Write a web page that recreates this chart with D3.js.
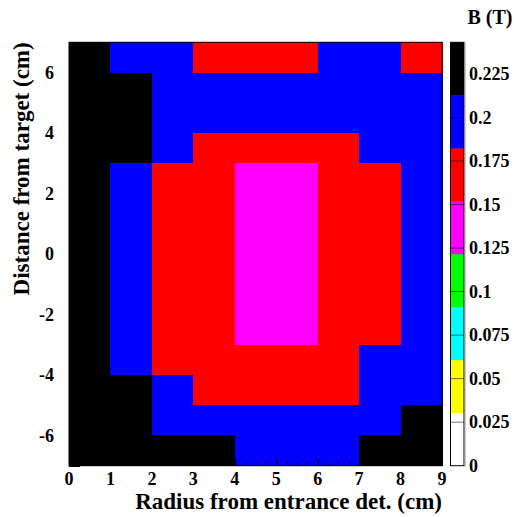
<!DOCTYPE html>
<html>
<head>
<meta charset="utf-8">
<script src="https://cdn.jsdelivr.net/npm/d3@7"></script>
<style>
  html, body { margin: 0; padding: 0; background: #fff; }
  svg { display: block; }
</style>
</head>
<body>
<script>
// Field map: bin edges along each axis (cm)
const radiusEdges = [0, 1, 2, 3, 4, 5, 6, 7, 8, 9];
const distanceEdges = [7, 6, 5, 4, 3, 2, 1, 0, -1, -2, -3, -4, -5, -6, -7];

// Field magnitude B (T), one row per distance bin from +7 down to -7 cm,
// one value per radius bin from 0 to 9 cm
const fieldRows = [
  [0.236, 0.205, 0.192, 0.176, 0.171, 0.174, 0.186, 0.198, 0.179],
  [0.2432, 0.221, 0.203, 0.194, 0.190, 0.191, 0.193, 0.199, 0.206],
  [0.238, 0.216, 0.198, 0.189, 0.186, 0.187, 0.190, 0.196, 0.204],
  [0.233, 0.214, 0.192, 0.179, 0.172, 0.173, 0.178, 0.187, 0.199],
  [0.228, 0.207, 0.179, 0.163, 0.149, 0.148, 0.161, 0.176, 0.193],
  [0.226, 0.204, 0.175, 0.158, 0.143, 0.142, 0.156, 0.172, 0.190],
  [0.225, 0.203, 0.173, 0.156, 0.140, 0.139, 0.154, 0.170, 0.188],
  [0.225, 0.203, 0.173, 0.156, 0.140, 0.139, 0.154, 0.170, 0.188],
  [0.226, 0.204, 0.175, 0.158, 0.142, 0.142, 0.156, 0.172, 0.190],
  [0.228, 0.206, 0.178, 0.162, 0.148, 0.147, 0.160, 0.175, 0.192],
  [0.232, 0.210, 0.178, 0.167, 0.160, 0.160, 0.167, 0.184, 0.197],
  [0.235, 0.215, 0.190, 0.178, 0.172, 0.172, 0.176, 0.188, 0.203],
  [0.238, 0.219, 0.199, 0.192, 0.187, 0.187, 0.191, 0.205, 0.214],
  [0.240, 0.226, 0.217, 0.213, 0.209, 0.205, 0.208, 0.218, 0.224]
];

// Axis tick labels
const xTickValues = [0, 1, 2, 3, 4, 5, 6, 7, 8, 9];
const yTickValues = [-6, -4, -2, 0, 2, 4, 6];
const zTickValues = [0, 0.025, 0.05, 0.075, 0.1, 0.125, 0.15, 0.175, 0.2, 0.225];
const zTickLabels = ["0", "0.025", "0.05", "0.075", "0.1", "0.125", "0.15", "0.175", "0.2", "0.225"];

// Eight-level palette, low to high
const paletteColors = ["#ffffff", "#ffff00", "#00ffff", "#00ff00", "#ff00ff", "#ff0000", "#0000ff", "#000000"];

const W = 514, H = 517;
const plot = { left: 69, right: 442, top: 42.3, bottom: 465.7 };
const bar = { left: 450.5, right: 464 };
const FONT = "'Liberation Serif', 'Times New Roman', Times, 'DejaVu Serif', serif";

const svg = d3.select("body").append("svg")
  .attr("width", W).attr("height", H)
  .attr("font-family", FONT).attr("font-weight", "bold");

const x = d3.scaleLinear().domain([0, 9]).range([plot.left, plot.right]);
const y = d3.scaleLinear().domain([-7, 7]).range([plot.bottom, plot.top]);
const zMax = d3.max(fieldRows.flat());
const z = d3.scaleLinear().domain([0, zMax]).range([plot.bottom, plot.top]);
const color = d3.scaleQuantize().domain([0, zMax]).range(paletteColors);

// Cells
const cells = [];
fieldRows.forEach((row, i) => {
  row.forEach((v, j) => {
    cells.push({ x0: radiusEdges[j], x1: radiusEdges[j] + 1, y0: distanceEdges[i] - 1, y1: distanceEdges[i], v });
  });
});
svg.append("g").selectAll("rect").data(cells).join("rect")
  .attr("x", d => x(d.x0))
  .attr("y", d => y(d.y1))
  .attr("width", d => x(d.x1) - x(d.x0) + 0.5)
  .attr("height", d => y(d.y0) - y(d.y1) + 0.5)
  .attr("fill", d => color(d.v))
  .attr("shape-rendering", "crispEdges");

// Ticks (drawn inward)
const tickG = svg.append("g").attr("stroke", "#000").attr("stroke-width", 1);
const xMinor = d3.range(0, 9.001, 0.25);
tickG.selectAll("line.xt").data(xMinor).join("line")
  .attr("x1", d => Math.round(x(d)) + 0.5).attr("x2", d => Math.round(x(d)) + 0.5)
  .attr("y1", plot.bottom)
  .attr("y2", d => plot.bottom - (Math.abs(d - Math.round(d)) < 1e-6 ? 7 : 3.5));
const yMinor = d3.range(-7, 7.001, 0.5);
tickG.selectAll("line.yt").data(yMinor).join("line")
  .attr("y1", d => Math.round(y(d)) + 0.5).attr("y2", d => Math.round(y(d)) + 0.5)
  .attr("x1", plot.left)
  .attr("x2", d => plot.left + (Math.abs(d - Math.round(d)) < 1e-6 ? 11 : 5.5));

// Frame
svg.append("rect")
  .attr("x", plot.left).attr("y", plot.top)
  .attr("width", plot.right - plot.left).attr("height", plot.bottom - plot.top)
  .attr("fill", "none").attr("stroke", "#000").attr("stroke-width", 1);

// X tick labels
svg.append("g").selectAll("text").data(xTickValues).join("text")
  .attr("x", d => x(d)).attr("y", 485)
  .attr("text-anchor", "middle").attr("font-size", 18)
  .text(d => d);

// Y tick labels
svg.append("g").selectAll("text").data(yTickValues).join("text")
  .attr("x", 54).attr("y", d => y(d)).attr("dy", "0.35em")
  .attr("text-anchor", "end").attr("font-size", 18)
  .text(d => d);

// Axis titles
svg.append("text")
  .attr("x", plot.right).attr("y", 509)
  .attr("text-anchor", "end").attr("font-size", 23)
  .text("Radius from entrance det. (cm)");
svg.append("text")
  .attr("transform", `translate(29,${plot.top}) rotate(-90)`)
  .attr("text-anchor", "end").attr("font-size", 23)
  .text("Distance from target (cm)");

// Color bar
const bands = paletteColors.map((c, i) => ({ lo: zMax * i / 8, hi: zMax * (i + 1) / 8, c }));
svg.append("g").selectAll("rect").data(bands).join("rect")
  .attr("x", bar.left).attr("width", bar.right - bar.left)
  .attr("y", d => z(d.hi)).attr("height", d => z(d.lo) - z(d.hi) + 0.3)
  .attr("fill", d => d.c);
svg.append("g").selectAll("line").data(zTickValues.slice(1)).join("line")
  .attr("x1", bar.left).attr("x2", bar.right)
  .attr("y1", d => z(d)).attr("y2", d => z(d))
  .attr("stroke", "#000").attr("stroke-opacity", 0.55).attr("stroke-width", 1);
svg.append("rect")
  .attr("x", bar.left).attr("y", plot.top)
  .attr("width", bar.right - bar.left).attr("height", plot.bottom - plot.top)
  .attr("fill", "none").attr("stroke", "#000").attr("stroke-width", 1);
svg.append("line")
  .attr("x1", bar.right + 1).attr("x2", bar.right + 1)
  .attr("y1", plot.top).attr("y2", plot.bottom + 1)
  .attr("stroke", "#999").attr("stroke-width", 1);

// Color bar labels
svg.append("g").selectAll("text").data(zTickValues).join("text")
  .attr("x", 469).attr("y", d => z(d)).attr("dy", "0.35em")
  .attr("font-size", 18)
  .text((d, i) => zTickLabels[i]);

// Color bar title
svg.append("text")
  .attr("x", 490).attr("y", 24)
  .attr("text-anchor", "middle").attr("font-size", 20)
  .text("B (T)");
</script>
</body>
</html>
